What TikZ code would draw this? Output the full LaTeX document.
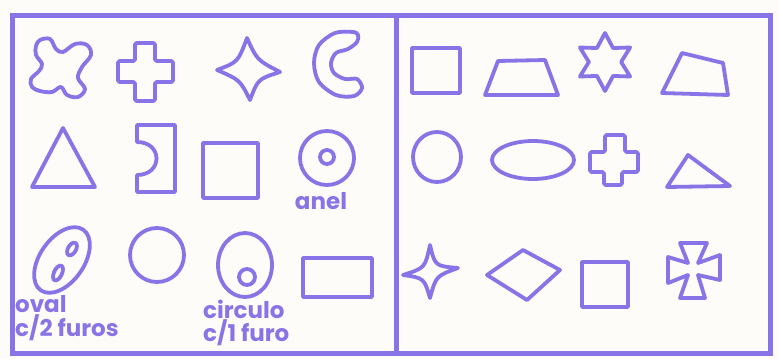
\documentclass[tikz,border=0pt]{standalone}
\usepackage{fontspec}
\setmainfont{Poppins}
\usepackage{tikz}
\usetikzlibrary{shapes.geometric}
\definecolor{Pencil}{RGB}{136,116,230}
\definecolor{Paper}{RGB}{253,252,248}

\begin{document}
\begin{tikzpicture}[
    x=1pt, y=-1pt,
    pencil/.style={draw=Pencil, line width=3.8pt, line join=round, line cap=round},
    frame/.style={draw=Pencil, line width=5pt},
    label/.style={text=Pencil, font=\fontsize{23}{24}\selectfont\bfseries, inner sep=0pt, anchor=west},
]
\useasboundingbox[fill=Paper] (0,0) rectangle (779,359);

% frame
\draw[frame] (12,15) rectangle (770,353);
\draw[frame] (396,15) -- (396,353);

% left panel, first row
\draw[pencil] plot[smooth cycle, tension=0.6] coordinates {(40,40) (50,39) (56,49) (63,52) (75,44) (87,45) (91,55)
    (82,67) (78,78) (85,89) (78,97) (67,95) (61,87) (52,92) (40,91) (32,87) (31,79) (39,71) (42,64) (36,55) (36,46)};
\draw[pencil, rounded corners=1.5] (135,43) -- (155,43) -- (155,61) -- (173,61) -- (173,82) -- (155,82) -- (155,101)
    -- (135,101) -- (135,82) -- (118,82) -- (118,61) -- (135,61) -- cycle;
\draw[pencil] (247,38) .. controls (257,60) .. (280,72) .. controls (258,79) .. (250,100)
    .. controls (240,80) .. (217,70) .. controls (238,62) .. cycle;
\draw[pencil] plot[smooth cycle, tension=0.55] coordinates {(353,32) (335,33) (319,45) (314,63) (319,82) (336,95)
    (354,96) (362,88) (357,79) (345,79) (334,73) (331,63) (336,53) (348,49) (357,42) (358,35)};

% left panel, second row
\draw[pencil] (63,128) -- (95,187) -- (32,187) -- cycle;
\draw[pencil] (137,125) -- (175,125) -- (175,192) -- (137,192) -- (137,175)
    .. controls (163,175) and (163,142) .. (137,142) -- cycle;
\draw[pencil] (203,143) rectangle (258,198);
\draw[pencil] (327,158) circle [radius=27];
\draw[pencil] (327,157) circle [radius=7];
\node[label, anchor=center] (anel) at (321,201) {anel};

% left panel, third row
\draw[pencil, rotate around={55:(62,260)}] (62,260) ellipse [x radius=37, y radius=22];
\draw[pencil, rotate around={60:(72,249)}] (72,249) ellipse [x radius=7, y radius=4];
\draw[pencil, rotate around={65:(58,273)}] (58,273) ellipse [x radius=8, y radius=4];
\node[label] (oval) at (15,304) {oval};
\node[label] (furos) at (15,328) {c/2 furos};
\draw[pencil] (157,255) circle [radius=27];
\draw[pencil] (245,265) ellipse [x radius=27, y radius=32];
\draw[pencil] (247,277) circle [radius=8];
\node[label] (circulo) at (203,309) {circulo};
\node[label] (furo) at (203,333) {c/1 furo};
\draw[pencil] (303,258) rectangle (372,297);

% right panel, first row
\draw[pencil] (412,48) rectangle (460,93);
\draw[pencil] (485,95) -- (498,61) -- (545,60) -- (558,95) -- cycle;
\node[star, star points=6, star point ratio=1.8, minimum size=58pt, pencil] (hexstar) at (605,62) {};
\draw[pencil] (682,53) -- (723,63) -- (728,95) -- (662,93) -- cycle;

% right panel, second row
\draw[pencil] (437,157) ellipse [x radius=24, y radius=25];
\draw[pencil] (533,160) ellipse [x radius=41, y radius=19];
\draw[pencil, rounded corners=1.5] (605,135) -- (625,135) -- (625,152) -- (638,152) -- (638,172) -- (622,172)
    -- (622,185) -- (604,185) -- (604,172) -- (590,172) -- (590,152) -- (605,152) -- cycle;
\draw[pencil] (688,155) -- (730,186) -- (667,187) -- cycle;

% right panel, third row
\draw[pencil] (430,245) .. controls (435,266) .. (458,268) .. controls (436,276) .. (430,298)
    .. controls (424,278) .. (403,275) .. controls (425,268) .. cycle;
\draw[pencil] (487,275) -- (523,250) -- (560,270) -- (527,300) -- cycle;
\draw[pencil] (582,262) rectangle (628,307);
\draw[pencil] (688,263) -- (680,243) -- (707,243) -- (698,263) -- (720,255) -- (720,280) -- (698,275)
    -- (705,298) -- (680,298) -- (688,275) -- (668,283) -- (668,257) -- cycle;
\end{tikzpicture}
\end{document}
